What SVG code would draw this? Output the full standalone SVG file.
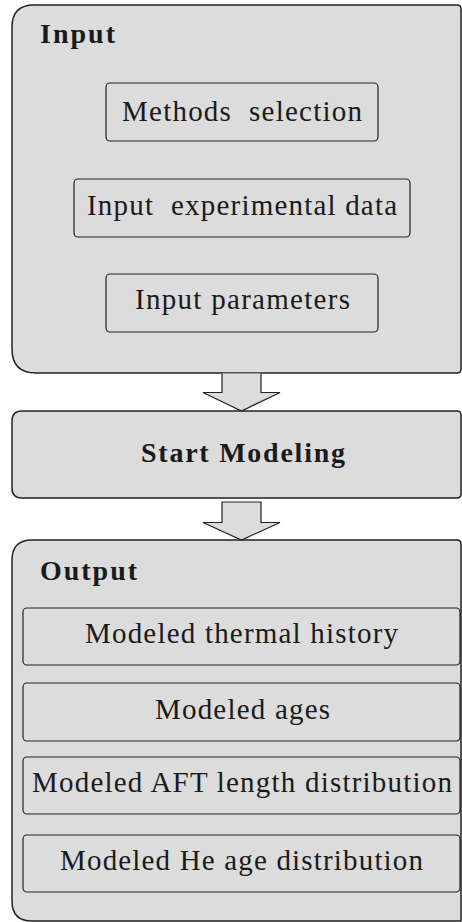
<svg xmlns="http://www.w3.org/2000/svg" width="462" height="922" viewBox="0 0 462 922">
<style>
.cont{fill:#dcdcdc;stroke:#222;stroke-width:1.5}
.box{fill:#dcdcdc;stroke:#222;stroke-width:1.2}
.arr{fill:#dcdcdc;stroke:#222;stroke-width:1.2;stroke-linejoin:miter}
.t{font-family:"Liberation Serif","Times New Roman",serif;font-size:29px;fill:#1a1a1a;text-anchor:middle}
.b{font-family:"Liberation Serif","Times New Roman",serif;font-size:28px;font-weight:bold;fill:#1a1a1a}
</style>
<rect width="462" height="922" fill="#ffffff"/>
<g id="input">
<path class="cont" d="M34,5 H457 Q461,5 461,9 V369 Q461,373 457,373 H36 Q12,373 12,349 V27 Q12,5 34,5 Z"/>
<text class="b" x="40" y="43" textLength="75" lengthAdjust="spacing">Input</text>
</g>
<g id="methods">
<rect class="box" x="106" y="83" width="272" height="58" rx="4"/>
<text class="t" x="242" y="121" textLength="240" lengthAdjust="spacing" xml:space="preserve">Methods  selection</text>
</g>
<g id="expdata">
<rect class="box" x="74" y="179" width="336" height="58" rx="4"/>
<text class="t" x="242" y="215" textLength="310" lengthAdjust="spacing" xml:space="preserve">Input  experimental data</text>
</g>
<g id="params">
<rect class="box" x="106" y="274" width="272" height="58" rx="4"/>
<text class="t" x="242.5" y="309" textLength="215" lengthAdjust="spacing">Input parameters</text>
</g>
<g id="start">
<path class="cont" d="M22,411 H457 Q461,411 461,415 V494 Q461,498 457,498 H22 Q12,498 12,488 V421 Q12,411 22,411 Z"/>
<text class="b" x="243" y="462" text-anchor="middle" textLength="204" lengthAdjust="spacing">Start Modeling</text>
</g>
<g id="output">
<path class="cont" d="M32,540 H457 Q461,540 461,544 V921 H32 Q12,921 12,901 V560 Q12,540 32,540 Z"/>
<text class="b" x="40" y="580" textLength="97" lengthAdjust="spacing">Output</text>
</g>
<g id="thermal">
<rect class="box" x="23" y="608" width="437" height="57" rx="4"/>
<text class="t" x="241.5" y="643" textLength="313" lengthAdjust="spacing">Modeled thermal history</text>
</g>
<g id="ages">
<rect class="box" x="23" y="683" width="437" height="58" rx="4"/>
<text class="t" x="242.5" y="719" textLength="175" lengthAdjust="spacing">Modeled ages</text>
</g>
<g id="aft">
<rect class="box" x="23" y="757" width="437" height="57" rx="4"/>
<text class="t" x="242" y="792" textLength="420" lengthAdjust="spacing">Modeled AFT length distribution</text>
</g>
<g id="he">
<rect class="box" x="23" y="835" width="437" height="57" rx="4"/>
<text class="t" x="241.5" y="870" textLength="363" lengthAdjust="spacing">Modeled He age distribution</text>
</g>
<g id="connectors">
<path class="arr" d="M222,373.5 V392.5 H203 L241.5,411 L280,392.5 H261 V373.5"/>
<path class="arr" d="M222,502 H261 V522.5 H280 L241.5,540 L203,522.5 H222 Z"/>
</g>
</svg>
